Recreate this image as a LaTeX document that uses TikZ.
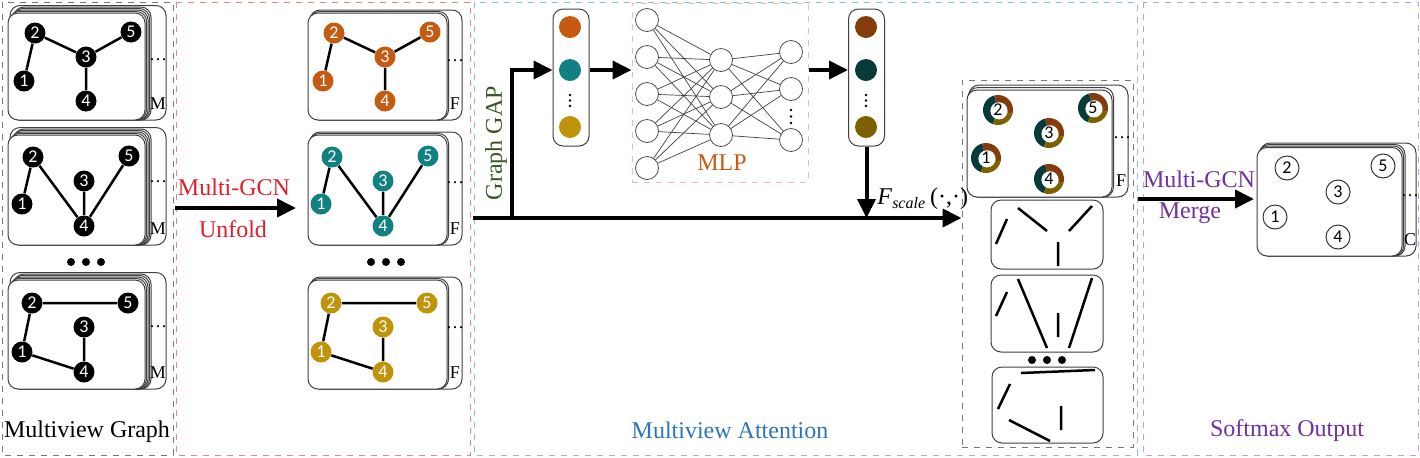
\documentclass[tikz,border=0pt]{standalone}
\usepackage{fontspec}
\setmainfont{Liberation Serif}
\newfontfamily\numfont{Carlito}
\usepackage{tikz}
\usetikzlibrary{arrows.meta, calc}
\usepackage{xcolor}
\definecolor{nodeorange}{RGB}{197,90,17}
\definecolor{nodeteal}{RGB}{16,128,128}
\definecolor{nodegold}{RGB}{191,148,10}
\definecolor{outbrown}{RGB}{132,60,12}
\definecolor{outteal}{RGB}{8,58,58}
\definecolor{outolive}{RGB}{127,96,0}
\definecolor{unfoldred}{RGB}{226,30,40}
\definecolor{gapgreen}{RGB}{56,87,35}
\definecolor{attblue}{RGB}{46,117,182}
\definecolor{mergepurple}{RGB}{112,48,160}
\definecolor{panelgray}{RGB}{120,120,120}
\definecolor{panelred}{RGB}{240,130,130}
\definecolor{panelblue}{RGB}{140,190,220}
\definecolor{panelpurple}{RGB}{190,160,220}
\definecolor{mlpframe}{RGB}{240,190,160}

\tikzset{
  vtx/.style={circle, fill=#1, text=white, minimum size=10.5pt, inner sep=0pt, font=\numfont\fontsize{9}{9}\selectfont},
  outvtx/.style={circle, draw=black!80, line width=0.5pt, fill=white, minimum size=12pt, inner sep=0pt, font=\numfont\fontsize{9}{9}\selectfont},
  ringvtx/.style={circle, minimum size=15pt, inner sep=0pt, font=\numfont\fontsize{9}{9}\selectfont,
    path picture={
      \fill[outteal] (path picture bounding box.center) -- ++(105:8pt) arc[start angle=105, end angle=250, radius=8pt] -- cycle;
      \fill[outbrown] (path picture bounding box.center) -- ++(-15:8pt) arc[start angle=-15, end angle=105, radius=8pt] -- cycle;
      \fill[outolive] (path picture bounding box.center) -- ++(250:8pt) arc[start angle=250, end angle=345, radius=8pt] -- cycle;
      \fill[white] ([shift={(0.5pt,-0.4pt)}]path picture bounding box.center) circle[radius=4.3pt];
    }},
  neuron/.style={circle, draw=black!70, line width=0.4pt, fill=white, minimum size=11.5pt, inner sep=0pt},
  vecdot/.style={circle, fill=#1, minimum size=11pt, inner sep=0pt},
  vecbox/.style={draw=black!75, line width=0.5pt, rounded corners=5pt, minimum width=18pt, minimum height=68.5pt},
  card/.style={draw=black!75, fill=white, line width=0.5pt, rounded corners=5pt},
  panel/.style={dashed, line width=0.5pt},
  link/.style={line width=1.25pt},
  synapse/.style={line width=0.35pt, black!75},
  bigarrow/.style={line width=2pt, -{Triangle[length=9.5pt,width=9pt]}},
  lbl/.style={font=\fontsize{12}{14}\selectfont},
  tag/.style={font=\fontsize{9}{9}\selectfont, inner sep=0pt},
}

\begin{document}
\begin{tikzpicture}[x=0.5pt, y=-0.5pt]
\useasboundingbox (0,0) rectangle (1420,457);

\draw[panel, panelgray] (2,2) rectangle (173,455);
\draw[panel, panelred] (176,2) rectangle (470,455);
\draw[panel, panelblue] (474,2) rectangle (1137,455);
\draw[panel, panelpurple] (1143,2) rectangle (1418,455);

\foreach \ct/\cb in {13/120, 135/245, 280/389}{
  \draw[card] (10,\ct-7.5) rectangle (166,\cb);
  \foreach \s in {4,3,2,1}
    \draw[card] (8+1.5*\s,\ct-1.5*\s) rectangle (145+1.5*\s,\cb);
  \draw[card] (8,\ct) rectangle (145,\cb);
  \node[tag] at (158,\ct+47) {\dots};
  \node[tag] at (158,\cb-16) {M};
  \draw[card] (310,\ct-3) rectangle (462,\cb);
  \draw[card] (309.5,\ct-1.5) rectangle (448.5,\cb);
  \draw[card] (308,\ct) rectangle (447,\cb);
  \node[tag] at (455,\ct+48) {\dots};
  \node[tag] at (455,\cb-16) {F};
}
\foreach \x in {71,86,101}{
  \fill (\x,262) circle[radius=2pt];
  \fill (\x+300,262) circle[radius=2pt];
}

\foreach \dx/\col/\g in {0/black/a, 299/nodeorange/p}{
  \begin{scope}[shift={(\dx,0)}]
    \node[vtx=\col] (\g1) at (24,81) {1};
    \node[vtx=\col] (\g2) at (35,33) {2};
    \node[vtx=\col] (\g3) at (86,57) {3};
    \node[vtx=\col] (\g4) at (86,101) {4};
    \node[vtx=\col] (\g5) at (131,32) {5};
  \end{scope}
  \draw[link] (\g1) -- (\g2) -- (\g3) -- (\g5) (\g3) -- (\g4);
}
\foreach \dx/\col/\g in {0/black/b, 299/nodeteal/q}{
  \begin{scope}[shift={(\dx,0)}]
    \node[vtx=\col] (\g1) at (22,204) {1};
    \node[vtx=\col] (\g2) at (33,157) {2};
    \node[vtx=\col] (\g3) at (84,181) {3};
    \node[vtx=\col] (\g4) at (84,226) {4};
    \node[vtx=\col] (\g5) at (129,156) {5};
  \end{scope}
  \draw[link] (\g1) -- (\g2) -- (\g4) -- (\g5) (\g3) -- (\g4);
}
\foreach \dx/\col/\g in {0/black/c, 299/nodegold/r}{
  \begin{scope}[shift={(\dx,0)}]
    \node[vtx=\col] (\g1) at (22,352) {1};
    \node[vtx=\col] (\g2) at (32,303) {2};
    \node[vtx=\col] (\g3) at (84,327) {3};
    \node[vtx=\col] (\g4) at (84,372) {4};
    \node[vtx=\col] (\g5) at (128,303) {5};
  \end{scope}
  \draw[link] (\g5) -- (\g2) -- (\g1) -- (\g4) (\g3) -- (\g4);
}

\node[lbl] at (87,432) {Multiview Graph};
\coordinate (unfoldstart) at (175,208);
\coordinate (unfoldend) at (296,208);
\draw[bigarrow] (unfoldstart) -- (unfoldend);
\node[lbl, text=unfoldred] at (234,187) {Multi-GCN};
\node[lbl, text=unfoldred] at (233,229) {Unfold};

\node[vecbox] (vecin) at (571,77.5) {};
\node[vecdot=nodeorange] (vi1) at (570,27) {};
\node[vecdot=nodeteal] (vi2) at (570,70) {};
\node[vecdot=nodegold] (vi3) at (570,127) {};
\foreach \y in {95,100.5,106} \fill (570,\y) circle[radius=0.7pt];

\node[panel, draw=mlpframe, minimum width=88pt, minimum height=89.5pt] (mlp) at (720,92.5) {};
\foreach \i/\y in {1/20, 2/57, 3/94, 4/131, 5/168}
  \node[neuron] (ha\i) at (647,\y) {};
\foreach \i/\y in {1/60, 2/97, 3/135}
  \node[neuron] (hb\i) at (721,\y) {};
\foreach \i/\y in {1/52, 2/89, 3/140}
  \node[neuron] (hc\i) at (791,\y) {};
\foreach \i in {1,...,5}
  \foreach \j in {1,2,3}
    \draw[synapse] (ha\i) -- (hb\j);
\foreach \i in {1,2,3}
  \foreach \j in {1,2,3}
    \draw[synapse] (hb\i) -- (hc\j);
\foreach \y in {110,116.5,123} \fill (791,\y) circle[radius=0.7pt];
\node[lbl, text=nodeorange] at (722,163) {MLP};

\node[vecbox] (vecout) at (866.5,77.5) {};
\node[vecdot=outbrown] (vo1) at (866,27) {};
\node[vecdot=outteal] (vo2) at (866,70) {};
\node[vecdot=outolive] (vo3) at (866,127) {};
\foreach \y in {95,100.5,106} \fill (866,\y) circle[radius=0.7pt];

\node[panel, draw=panelgray, minimum width=85.5pt, minimum height=183.5pt] (attnbox) at (1047.5,263.5) {};
\coordinate (mainstart) at (473,218);
\coordinate (gapfork) at (512,218);
\draw[line width=2pt] (mainstart) -- (gapfork);
\draw[bigarrow] (gapfork) -- (attnbox.west |- mainstart);
\draw[bigarrow] (gapfork) |- (vecin.west |- vi2);
\draw[bigarrow] (vecin.east |- vi2) -- (mlp.west |- vi2);
\draw[bigarrow] (mlp.east |- vo2) -- (vecout.west |- vo2);
\draw[bigarrow] (vecout.south) -- (vecout.south |- mainstart);
\node[lbl, text=gapgreen, rotate=90] at (496,143) {Graph GAP};
\node[lbl, anchor=west, inner sep=0pt] at (877,199) {\textit{F}\textsubscript{\textit{scale}}\,(\textperiodcentered,\textperiodcentered)};

\draw[card] (969,85) rectangle (1128,197);
\draw[card] (968,87.5) rectangle (1113.5,197);
\draw[card] (967,90) rectangle (1112,197);
\node[tag] at (1122,138) {\dots};
\node[tag] at (1121,181) {F};
\node[ringvtx] (s1) at (986,158) {1};
\node[ringvtx] (s2) at (998,110) {2};
\node[ringvtx] (s3) at (1049,133) {3};
\node[ringvtx] (s4) at (1049,179) {4};
\node[ringvtx] (s5) at (1093,108) {5};

\draw[card] (991,200) rectangle (1103,269);
\draw[link] (996,244) -- (1007,219) (1018,208) -- (1047,231) (1069,231) -- (1092,206) (1058,242) -- (1058,266);
\draw[card] (991,275) rectangle (1103,352);
\draw[link] (996,316) -- (1007,292) (1018,279) -- (1047,348) (1058,313) -- (1058,337) (1069,348) -- (1092,278);
\foreach \x in {1032,1047,1062} \fill (\x,360) circle[radius=2pt];
\draw[card] (992,367) rectangle (1103,443);
\draw[link] (1021,373) -- (1095,370) (998,409) -- (1010,384) (1009,420) -- (1050,441) (1061,406) -- (1061,430);
\node[lbl, text=attblue] at (730,430) {Multiview Attention};

\coordinate (mergestart) at (1138,199);
\coordinate (mergeend) at (1254,199);
\draw[bigarrow] (mergestart) -- (mergeend);
\node[lbl, text=mergepurple] at (1199,179) {Multi-GCN};
\node[lbl, text=mergepurple] at (1190,213) {Merge};

\draw[card] (1260,143) rectangle (1416,256);
\draw[card] (1259,144.5) rectangle (1405,256);
\draw[card] (1258,146) rectangle (1403.5,256);
\draw[card] (1257,147.5) rectangle (1402,256);
\node[tag] at (1410,196) {\dots};
\node[tag] at (1410,240) {C};
\node[outvtx] (t1) at (1275,217) {1};
\node[outvtx] (t2) at (1287,168) {2};
\node[outvtx] (t3) at (1338,192) {3};
\node[outvtx] (t4) at (1338,237) {4};
\node[outvtx] (t5) at (1383,166) {5};
\node[lbl, text=mergepurple, anchor=west] at (1203,431) {Softmax Output};
\end{tikzpicture}
\end{document}
